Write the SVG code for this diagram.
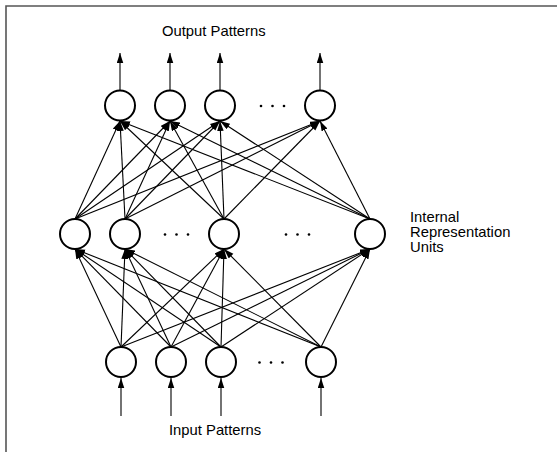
<svg xmlns="http://www.w3.org/2000/svg" width="557" height="452" viewBox="0 0 557 452">
<style>
.node{fill:#fff;stroke:#000;stroke-width:2}
.edge{stroke:#000;stroke-width:1.1;fill:none;marker-end:url(#ah)}
.lbl{font-family:"Liberation Sans",Arial,sans-serif;font-size:14.8px;fill:#000}
.dot{fill:#000}
.frame{stroke:#555;stroke-width:1.6;fill:none}
</style>
<defs>
<marker id="ah" markerUnits="userSpaceOnUse" markerWidth="10" markerHeight="7" refX="10" refY="3.25" orient="auto">
<path d="M0,0 L10,3.25 L0,6.5 z" fill="#000"/>
</marker>
</defs>
<rect width="557" height="452" fill="#fff"/>
<path class="frame" d="M6,452 V6 H557"/>
<g id="connectors">
<!-- input arrows -->
<line class="edge" x1="121" y1="416" x2="121" y2="378"/>
<line class="edge" x1="171" y1="416" x2="171" y2="378"/>
<line class="edge" x1="221" y1="416" x2="221" y2="378"/>
<line class="edge" x1="321" y1="416" x2="321" y2="378"/>
<!-- output arrows -->
<line class="edge" x1="120" y1="90" x2="120" y2="53"/>
<line class="edge" x1="170" y1="90" x2="170" y2="53"/>
<line class="edge" x1="220" y1="90" x2="220" y2="53"/>
<line class="edge" x1="320" y1="90" x2="320" y2="53"/>
<!-- input to hidden -->
<line class="edge" x1="121" y1="347" x2="75" y2="249"/>
<line class="edge" x1="121" y1="347" x2="125" y2="249"/>
<line class="edge" x1="121" y1="347" x2="224" y2="249"/>
<line class="edge" x1="121" y1="347" x2="370" y2="249"/>
<line class="edge" x1="171" y1="347" x2="75" y2="249"/>
<line class="edge" x1="171" y1="347" x2="125" y2="249"/>
<line class="edge" x1="171" y1="347" x2="224" y2="249"/>
<line class="edge" x1="171" y1="347" x2="370" y2="249"/>
<line class="edge" x1="221" y1="347" x2="75" y2="249"/>
<line class="edge" x1="221" y1="347" x2="125" y2="249"/>
<line class="edge" x1="221" y1="347" x2="224" y2="249"/>
<line class="edge" x1="221" y1="347" x2="370" y2="249"/>
<line class="edge" x1="321" y1="347" x2="75" y2="249"/>
<line class="edge" x1="321" y1="347" x2="125" y2="249"/>
<line class="edge" x1="321" y1="347" x2="224" y2="249"/>
<line class="edge" x1="321" y1="347" x2="370" y2="249"/>
<!-- hidden to output -->
<line class="edge" x1="75" y1="219" x2="120" y2="121"/>
<line class="edge" x1="75" y1="219" x2="170" y2="121"/>
<line class="edge" x1="75" y1="219" x2="220" y2="121"/>
<line class="edge" x1="75" y1="219" x2="320" y2="121"/>
<line class="edge" x1="125" y1="219" x2="120" y2="121"/>
<line class="edge" x1="125" y1="219" x2="170" y2="121"/>
<line class="edge" x1="125" y1="219" x2="220" y2="121"/>
<line class="edge" x1="125" y1="219" x2="320" y2="121"/>
<line class="edge" x1="224" y1="219" x2="120" y2="121"/>
<line class="edge" x1="224" y1="219" x2="170" y2="121"/>
<line class="edge" x1="224" y1="219" x2="220" y2="121"/>
<line class="edge" x1="224" y1="219" x2="320" y2="121"/>
<line class="edge" x1="370" y1="219" x2="120" y2="121"/>
<line class="edge" x1="370" y1="219" x2="170" y2="121"/>
<line class="edge" x1="370" y1="219" x2="220" y2="121"/>
<line class="edge" x1="370" y1="219" x2="320" y2="121"/>
</g>
<g id="output-layer">
<g id="out1"><circle class="node" cx="120" cy="105.5" r="15"/></g>
<g id="out2"><circle class="node" cx="170" cy="105.5" r="15"/></g>
<g id="out3"><circle class="node" cx="220" cy="105.5" r="15"/></g>
<g id="out4"><circle class="node" cx="320" cy="105.5" r="15"/></g>
<g id="out-dots"><circle class="dot" cx="261" cy="106" r="1.3"/><circle class="dot" cx="272.5" cy="106" r="1.3"/><circle class="dot" cx="284" cy="106" r="1.3"/></g>
</g>
<g id="hidden-layer">
<g id="hid1"><circle class="node" cx="75" cy="234" r="15"/></g>
<g id="hid2"><circle class="node" cx="125" cy="234" r="15"/></g>
<g id="hid3"><circle class="node" cx="224" cy="234" r="15"/></g>
<g id="hid4"><circle class="node" cx="370" cy="234" r="15"/></g>
<g id="hid-dots1"><circle class="dot" cx="165" cy="234.5" r="1.3"/><circle class="dot" cx="176.5" cy="234.5" r="1.3"/><circle class="dot" cx="188" cy="234.5" r="1.3"/></g>
<g id="hid-dots2"><circle class="dot" cx="286" cy="234.5" r="1.3"/><circle class="dot" cx="297.5" cy="234.5" r="1.3"/><circle class="dot" cx="309" cy="234.5" r="1.3"/></g>
</g>
<g id="input-layer">
<g id="in1"><circle class="node" cx="121" cy="362" r="15"/></g>
<g id="in2"><circle class="node" cx="171" cy="362" r="15"/></g>
<g id="in3"><circle class="node" cx="221" cy="362" r="15"/></g>
<g id="in4"><circle class="node" cx="321" cy="362" r="15"/></g>
<g id="in-dots"><circle class="dot" cx="259.5" cy="362.5" r="1.3"/><circle class="dot" cx="271" cy="362.5" r="1.3"/><circle class="dot" cx="282.5" cy="362.5" r="1.3"/></g>
</g>
<g id="labels">
<text id="output-label" class="lbl" x="162" y="36">Output Patterns</text>
<text id="input-label" class="lbl" x="169" y="435">Input Patterns</text>
<text id="hidden-label" class="lbl" x="410"><tspan x="410" y="222">Internal</tspan><tspan x="410" y="237">Representation</tspan><tspan x="410" y="252">Units</tspan></text>
</g>
</svg>
